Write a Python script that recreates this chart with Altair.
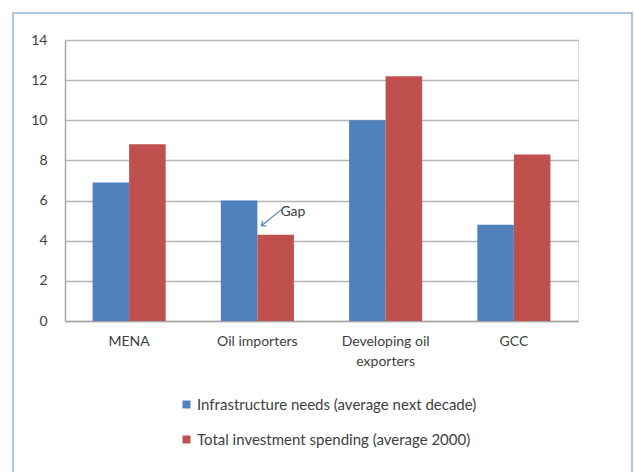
import altair as alt
import pandas as pd

categories = ["MENA", "Oil importers", "Developing oil exporters", "GCC"]
series_names = ["Infrastructure needs (average next decade)",
                "Total investment spending (average 2000)"]
needs = [6.9, 6.0, 10.0, 4.8]
spending = [8.8, 4.3, 12.2, 8.3]
y_ticks = [0, 2, 4, 6, 8, 10, 12, 14]
colors = ["#4F81BD", "#C0504D"]

rows = []
for c, a, b in zip(categories, needs, spending):
    rows.append({"cat": c, "series": series_names[0], "value": a})
    rows.append({"cat": c, "series": series_names[1], "value": b})
df = pd.DataFrame(rows)

FONT = "Lato"
TXT = "#404040"
FS = 14

x_enc = alt.X("cat:N", sort=categories, title=None,
              scale=alt.Scale(paddingInner=0.43, paddingOuter=0.215),
              axis=alt.Axis(labelAngle=0, ticks=False, domainColor="#a6a6a6", domainWidth=1.5,
                            labelPadding=13, labelFont=FONT, labelFontSize=FS, labelColor=TXT,
                            labelLineHeight=20,
                            labelExpr="datum.value == 'Developing oil exporters' ? ['Developing oil', 'exporters'] : datum.value"))

bars = alt.Chart(df).mark_bar().encode(
    x=x_enc,
    xOffset=alt.XOffset("series:N", sort=series_names, scale=alt.Scale(paddingInner=0, paddingOuter=0)),
    y=alt.Y("value:Q", title=None, scale=alt.Scale(domain=[0, 14]),
            axis=alt.Axis(values=y_ticks, ticks=False, labelPadding=18, domainColor="#a6a6a6",
                          domainWidth=1.5, gridColor="#b5b5b5", gridWidth=1.5,
                          labelFont=FONT, labelFontSize=FS, labelColor=TXT)),
    color=alt.Color("series:N", sort=series_names,
                    scale=alt.Scale(domain=series_names, range=colors),
                    legend=alt.Legend(title=None, orient="none", legendX=114, legendY=357,
                                      symbolType="square", symbolSize=64, symbolStrokeWidth=0,
                                      rowPadding=19, labelFont=FONT, labelFontSize=15,
                                      labelLimit=0, labelColor=TXT, labelOffset=3)),
)

ann = pd.DataFrame({"cat": ["Oil importers"], "label": ["Gap"],
                    "ty": [5.45], "tip": [4.75], "tail": [5.55]})

gap_text = alt.Chart(ann).mark_text(align="left", baseline="middle", dx=23,
                                    font=FONT, fontSize=FS, color=TXT).encode(
    x=alt.X("cat:N", sort=categories), y="ty:Q", text="label:N")

gap_line = alt.Chart(ann).mark_rule(color="#4F81BD", strokeWidth=1.2,
                                    xOffset=4, x2Offset=24).encode(
    x=alt.X("cat:N", sort=categories), x2="cat:N", y="tip:Q", y2="tail:Q")

gap_head = alt.Chart(ann).mark_point(shape="M-1,-0.8L0,0L-1,0.8", filled=False, size=60,
                                     color="#4F81BD", strokeWidth=1.2, angle=144,
                                     xOffset=4, opacity=1).encode(
    x=alt.X("cat:N", sort=categories), y="tip:Q")

frame = alt.Chart(ann).mark_rect(fill=None, stroke="#95b3d7", strokeWidth=1.5).encode(
    x=alt.value(-52), x2=alt.value(567), y=alt.value(-27), y2=alt.value(450))

chart = alt.layer(frame, bars, gap_line, gap_head, gap_text).properties(
    width=513, height=281,
    autosize=alt.AutoSizeParams(type="none"),
    padding={"left": 65, "top": 40, "right": 56, "bottom": 151},
).configure_view(stroke=None).configure(background="white")

chart.save("out.html", embed_options={"renderer": "svg", "actions": False})
